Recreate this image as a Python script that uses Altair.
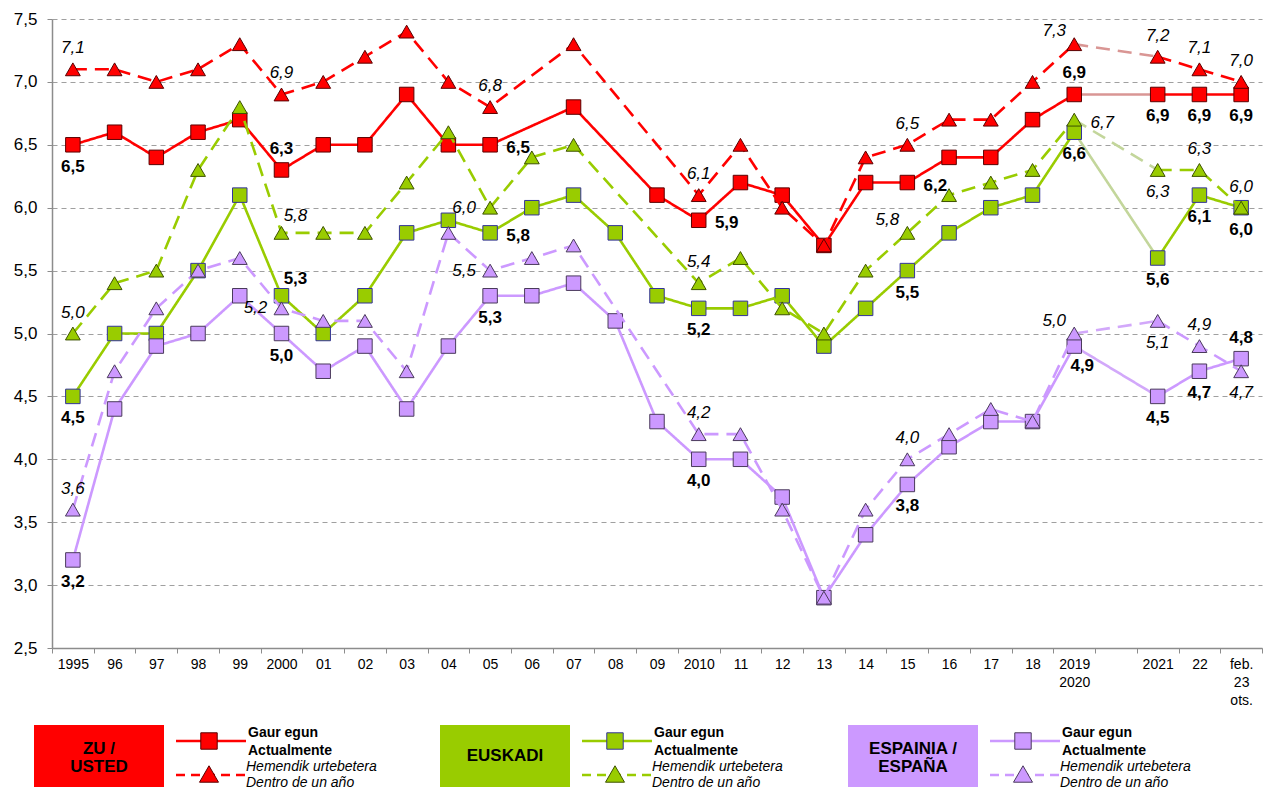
import altair as alt
import pandas as pd

# ---------------- data ----------------
CATS = ["1995", "96", "97", "98", "99", "2000", "01", "02", "03", "04", "05", "06", "07", "08",
        "09", "2010", "11", "12", "13", "14", "15", "16", "17", "18", "2019|2020", "gap",
        "2021", "22", "feb.|23|ots."]

ZU_ACT = [6.5, 6.6, 6.4, 6.6, 6.7, 6.3, 6.5, 6.5, 6.9, 6.5, 6.5, None, 6.8, None, 6.1, 5.9, 6.2,
          6.1, 5.7, 6.2, 6.2, 6.4, 6.4, 6.7, 6.9, None, 6.9, 6.9, 6.9]
ZU_FUT = [7.1, 7.1, 7.0, 7.1, 7.3, 6.9, 7.0, 7.2, 7.4, 7.0, 6.8, None, 7.3, None, None, 6.1, 6.5,
          6.0, 5.7, 6.4, 6.5, 6.7, 6.7, 7.0, 7.3, None, 7.2, 7.1, 7.0]
EUS_ACT = [4.5, 5.0, 5.0, 5.5, 6.1, 5.3, 5.0, 5.3, 5.8, 5.9, 5.8, 6.0, 6.1, 5.8, 5.3, 5.2, 5.2,
           5.3, 4.9, 5.2, 5.5, 5.8, 6.0, 6.1, 6.6, None, 5.6, 6.1, 6.0]
EUS_FUT = [5.0, 5.4, 5.5, 6.3, 6.8, 5.8, 5.8, 5.8, 6.2, 6.6, 6.0, 6.4, 6.5, None, None, 5.4, 5.6,
           5.2, 5.0, 5.5, 5.8, 6.1, 6.2, 6.3, 6.7, None, 6.3, 6.3, 6.0]
ESP_ACT = [3.2, 4.4, 4.9, 5.0, 5.3, 5.0, 4.7, 4.9, 4.4, 4.9, 5.3, 5.3, 5.4, 5.1, 4.3, 4.0, 4.0,
           3.7, 2.9, 3.4, 3.8, 4.1, 4.3, 4.3, 4.9, None, 4.5, 4.7, 4.8]
ESP_FUT = [3.6, 4.7, 5.2, 5.5, 5.6, 5.2, 5.1, 5.1, 4.7, 5.8, 5.5, 5.6, 5.7, None, None, 4.2, 4.2,
           3.6, 2.9, 3.6, 4.0, 4.2, 4.4, 4.3, 5.0, None, 5.1, 4.9, 4.7]

Y_TICKS = [2.5, 3.0, 3.5, 4.0, 4.5, 5.0, 5.5, 6.0, 6.5, 7.0, 7.5]

# which points carry a value label, and where it sits
LABELS = {
    "zu_act": [("1995", "below"), ("2000", "above"), ("05", "right"), ("2010", "right"),
               ("15", "right"), ("2019|2020", "above"), ("2021", "below"), ("22", "below"),
               ("feb.|23|ots.", "below")],
    "zu_fut": [("1995", "above"), ("2000", "above"), ("05", "above"), ("2010", "above"),
               ("15", "above"), ("2019|2020", "upleft"), ("2021", "above"), ("22", "above"),
               ("feb.|23|ots.", "above")],
    "eus_act": [("1995", "below"), ("2000", "upright"), ("05", "right"), ("2010", "below"),
                ("15", "below"), ("2019|2020", "below"), ("2021", "below"), ("22", "below"),
                ("feb.|23|ots.", "below")],
    "eus_fut": [("1995", "above"), ("2000", "upright"), ("05", "left"), ("2010", "above"),
                ("15", "upleft"), ("2019|2020", "right"), ("2021", "below"), ("22", "above"),
                ("feb.|23|ots.", "above")],
    "esp_act": [("1995", "below"), ("2000", "below"), ("05", "below"), ("2010", "below"),
                ("15", "below"), ("2019|2020", "downright"), ("2021", "below"), ("22", "below"),
                ("feb.|23|ots.", "above")],
    "esp_fut": [("1995", "above"), ("2000", "left"), ("05", "left"), ("2010", "above"),
                ("15", "above"), ("2019|2020", "upleft"), ("2021", "below"), ("22", "above"),
                ("feb.|23|ots.", "below")],
}

# ---------------- styles ----------------
FONT = "Liberation Sans"
RED, RED_FADE, RED_EDGE = "#ff0000", "#d99694", "#5a0000"
GRN, GRN_FADE, GRN_EDGE_SQ, GRN_EDGE_TRI = "#99cc00", "#c3d69b", "#33339a", "#3d5200"
PUR, PUR_FADE, PUR_EDGE = "#cc99ff", "#d2a8fa", "#4a3a5c"

SERIES = [
    # key, values, kind, line colour, faded colour, fill, edge
    ("zu_act", ZU_ACT, "act", RED, RED_FADE, RED, RED_EDGE),
    ("zu_fut", ZU_FUT, "fut", RED, RED_FADE, RED, RED_EDGE),
    ("eus_act", EUS_ACT, "act", GRN, GRN_FADE, GRN, GRN_EDGE_SQ),
    ("eus_fut", EUS_FUT, "fut", GRN, GRN_FADE, GRN, GRN_EDGE_TRI),
    ("esp_act", ESP_ACT, "act", PUR, PUR_FADE, PUR, PUR_EDGE),
    ("esp_fut", ESP_FUT, "fut", PUR, PUR_FADE, PUR, PUR_EDGE),
]

PLACE = {
    "above": (0, -21), "below": (0, 22), "right": (28, 3), "left": (-26, 0),
    "upleft": (-20, -13), "upright": (14, -17), "downright": (8, 20),
}

W, H = 1210, 629
PAD_L, PAD_T, PAD_B = 44, 11, 142
OX, OY = 8 + PAD_L, 8 + PAD_T  # page position of the plot origin

SPLIT_BEFORE = CATS.index("2019|2020")
SPLIT_AFTER = CATS.index("2021")

x_axis = alt.Axis(
    title=None, labelExpr="datum.label == 'gap' ? '' : split(datum.label, '|')",
    labelFont=FONT, labelFontSize=14, labelColor="#000", labelAngle=0,
    labelLineHeight=18, labelBaseline="top", labelPadding=4,
    tickBand="extent", tickSize=5, tickColor="#8c8c8c", domainColor="#8c8c8c",
    domainWidth=1.5, grid=False,
)
y_axis = alt.Axis(
    title=None, values=Y_TICKS,
    labelExpr="replace(format(datum.value, '.1f'), '.', ',')",
    labelFont=FONT, labelFontSize=17, labelColor="#000", labelPadding=10,
    tickSize=5, tickColor="#8c8c8c", domainColor="#8c8c8c", domainWidth=1.5,
    grid=True, gridDash=[5, 4], gridColor="#a0a0a0", gridWidth=1.2,
)


def X():
    return alt.X("cat:N", sort=CATS,
                 scale=alt.Scale(domain=CATS, type="band", paddingInner=0, paddingOuter=0),
                 axis=x_axis)


def Y():
    return alt.Y("v:Q", scale=alt.Scale(domain=[2.5, 7.5], nice=False, zero=False), axis=y_axis)


def fmt(v):
    return f"{v:.1f}".replace(".", ",")


layers = []
for key, vals, kind, lc, fc, fill, edge in SERIES:
    rows = [dict(cat=c, v=v, idx=i, seg=("a" if i <= SPLIT_BEFORE else "b"))
            for i, (c, v) in enumerate(zip(CATS, vals)) if v is not None]
    df = pd.DataFrame(rows)
    fade = df[df["idx"].isin([SPLIT_BEFORE, SPLIT_AFTER])]
    dash = [14, 8] if kind == "fut" else [1, 0]
    main_line = alt.Chart(df).mark_line(color=lc, strokeWidth=2.6, strokeDash=dash).encode(
        x=X(), y=Y(), detail="seg:N", order="idx:Q")
    fade_line = alt.Chart(fade).mark_line(color=fc, strokeWidth=2.6, strokeDash=dash).encode(
        x=X(), y=Y(), order="idx:Q")
    shape = "square" if kind == "act" else "triangle-up"
    pts = alt.Chart(df).mark_point(shape=shape, filled=True, size=210 if kind == "act" else 220,
                                   fill=fill, stroke=edge, strokeWidth=1, opacity=1,
                                   fillOpacity=1).encode(x=X(), y=Y())
    layers += [main_line, fade_line, pts]

# value labels
groups = {}
for key, vals, kind, *_ in SERIES:
    for cat, place in LABELS[key]:
        v = vals[CATS.index(cat)]
        groups.setdefault((kind, place), []).append(dict(cat=cat, v=v, t=fmt(v)))
for (kind, place), rows in groups.items():
    dx, dy = PLACE[place]
    layers.append(
        alt.Chart(pd.DataFrame(rows)).mark_text(
            font=FONT, fontSize=17, color="#000", dx=dx, dy=dy, baseline="middle",
            align="center", fontWeight="bold" if kind == "act" else "normal",
            fontStyle="normal" if kind == "act" else "italic",
        ).encode(x=X(), y=Y(), text="t:N")
    )

# ---------------- custom legend (page coordinates converted to plot coordinates) ----------------
LEG_GROUPS = [("ZU /|USTED", RED, RED_EDGE, RED_EDGE, RED, 34),
              ("EUSKADI", GRN, GRN_EDGE_SQ, GRN_EDGE_TRI, GRN, 440),
              ("ESPAINIA /|ESPAÑA", PUR, PUR_EDGE, PUR_EDGE, PUR, 848)]
BOX_W, BOX_TOP, BOX_BOT = 130, 725, 787
ROW1_Y, ROW2_Y = 741, 775

boxes, boxtxt, lines_s, lines_d, sq, tri, t_act, t_fut = [], [], [], [], [], [], [], []
for name, col, e_sq, e_tri, lcol, x0 in LEG_GROUPS:
    n_lines = name.count("|") + 1
    boxes.append(dict(x=x0 - OX, x2=x0 + BOX_W - OX, y=BOX_TOP - OY, y2=BOX_BOT - OY, c=col))
    boxtxt.append(dict(x=x0 + BOX_W / 2 - OX,
                       y=(BOX_TOP + BOX_BOT) / 2 - 7 * (n_lines - 1) - OY, t=name))
    lines_s.append(dict(x=x0 + 142 - OX, x2=x0 + 212 - OX, y=ROW1_Y - OY, c=lcol))
    lines_d.append(dict(x=x0 + 142 - OX, x2=x0 + 212 - OX, y=ROW2_Y - OY, c=lcol))
    sq.append(dict(x=x0 + 175 - OX, y=ROW1_Y - OY, f=col, s=e_sq))
    tri.append(dict(x=x0 + 175 - OX, y=ROW2_Y - 1 - OY, f=col, s=e_tri))
    t_act.append(dict(x=x0 + 214 - OX, y=ROW1_Y - 8 - OY, t="Gaur egun|Actualmente"))
    t_fut.append(dict(x=x0 + 212 - OX, y=ROW2_Y - 8 - OY, t="Hemendik urtebetera|Dentro de un año"))


def PX(f="x"):
    return alt.X(f"{f}:Q", scale=None, axis=None)


def PY(f="y"):
    return alt.Y(f"{f}:Q", scale=None, axis=None)


layers += [
    alt.Chart(pd.DataFrame(boxes)).mark_rect().encode(
        x=PX(), x2="x2:Q", y=PY(), y2="y2:Q", fill=alt.Fill("c:N", scale=None)),
    alt.Chart(pd.DataFrame(boxtxt)).mark_text(
        font=FONT, fontSize=17, fontWeight="bold", color="#000", lineBreak="|",
        lineHeight=18, align="center", baseline="middle").encode(x=PX(), y=PY(), text="t:N"),
    alt.Chart(pd.DataFrame(lines_s)).mark_rule(strokeWidth=2.6).encode(
        x=PX(), x2="x2:Q", y=PY(), color=alt.Color("c:N", scale=None)),
    alt.Chart(pd.DataFrame(lines_d)).mark_rule(strokeWidth=2.6, strokeDash=[9, 6]).encode(
        x=PX(), x2="x2:Q", y=PY(), color=alt.Color("c:N", scale=None)),
    alt.Chart(pd.DataFrame(sq)).mark_point(shape="square", filled=True, size=270, opacity=1,
                                          strokeWidth=1).encode(
        x=PX(), y=PY(), fill=alt.Fill("f:N", scale=None), stroke=alt.Stroke("s:N", scale=None)),
    alt.Chart(pd.DataFrame(tri)).mark_point(shape="triangle-up", filled=True, size=360,
                                           opacity=1, strokeWidth=1).encode(
        x=PX(), y=PY(), fill=alt.Fill("f:N", scale=None), stroke=alt.Stroke("s:N", scale=None)),
    alt.Chart(pd.DataFrame(t_act)).mark_text(
        font=FONT, fontSize=14, fontWeight="bold", color="#000", lineBreak="|",
        lineHeight=18, align="left", baseline="middle").encode(x=PX(), y=PY(), text="t:N"),
    alt.Chart(pd.DataFrame(t_fut)).mark_text(
        font=FONT, fontSize=14, fontStyle="italic", color="#000", lineBreak="|",
        lineHeight=16, align="left", baseline="middle").encode(x=PX(), y=PY(), text="t:N"),
]

chart = alt.layer(*layers).properties(
    width=W, height=H,
    autosize=alt.AutoSizeParams(type="none"),
    padding={"left": PAD_L, "top": PAD_T, "right": 2, "bottom": PAD_B},
).configure_view(stroke=None)

chart.save("out.html", embed_options={"renderer": "svg", "actions": False})
